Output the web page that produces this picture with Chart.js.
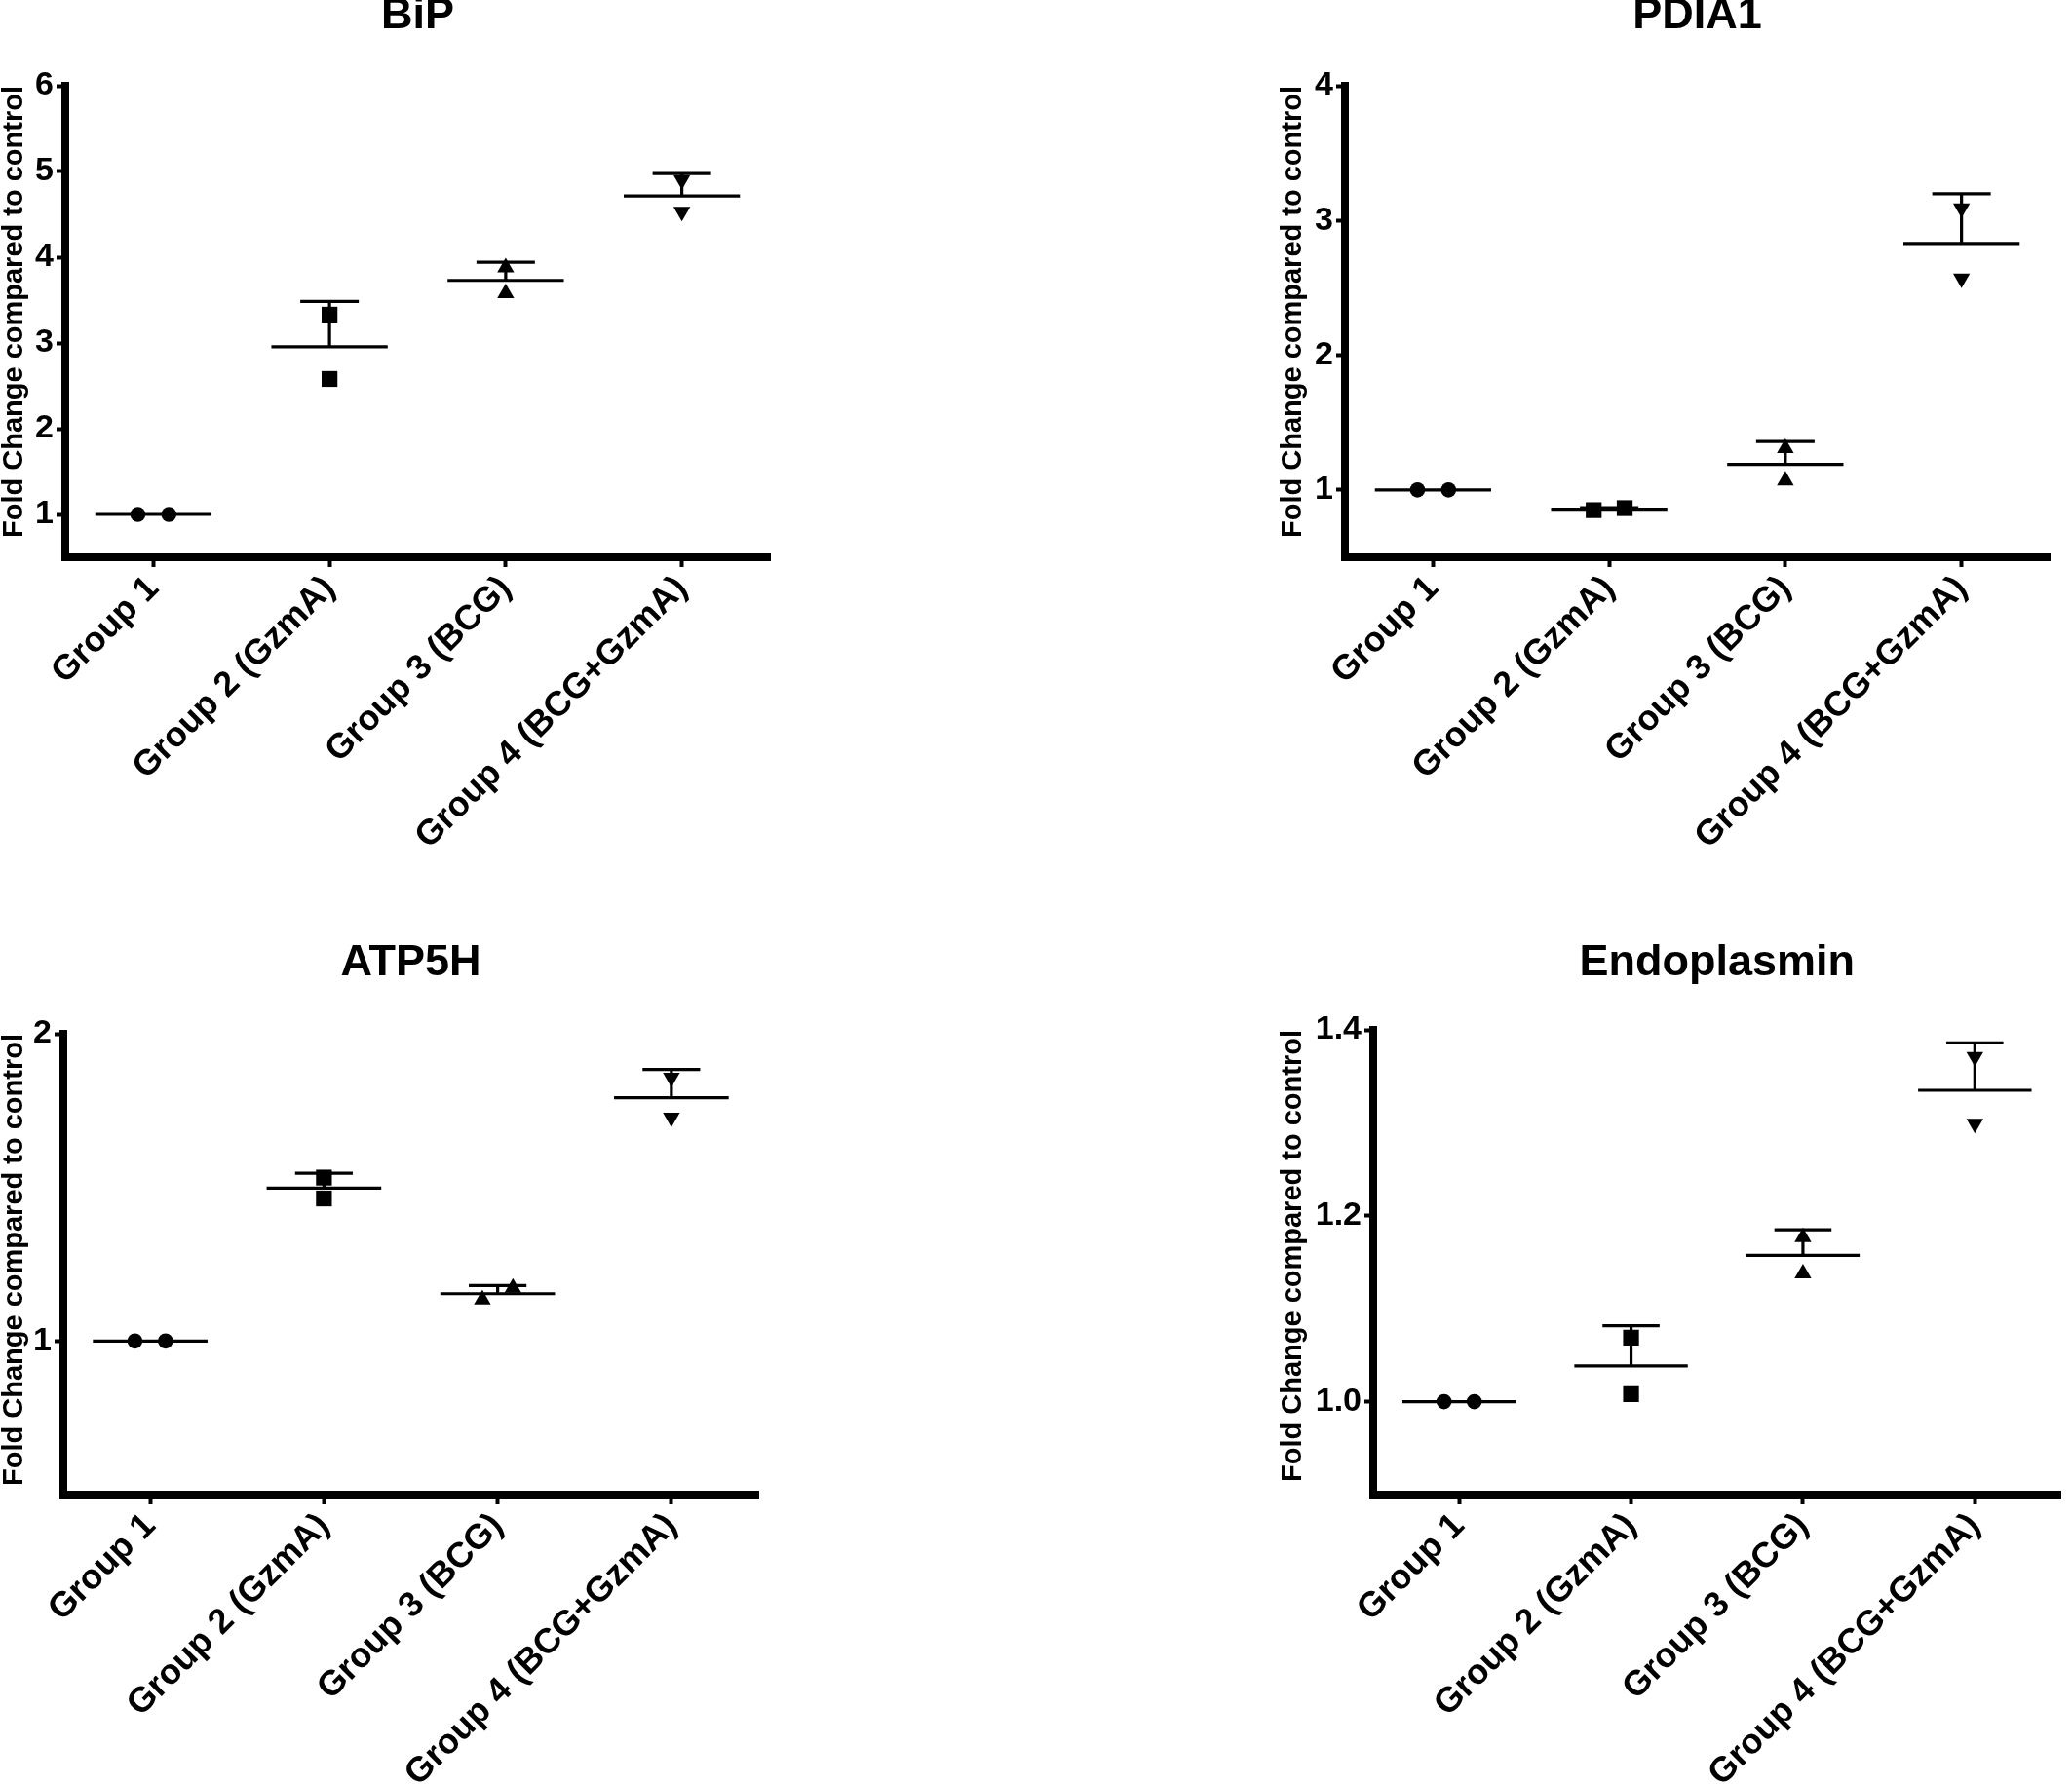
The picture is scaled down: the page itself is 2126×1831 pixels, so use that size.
<!DOCTYPE html>
<html>
<head>
<meta charset="utf-8">
<script src="https://cdn.jsdelivr.net/npm/chart.js@4.4.1/dist/chart.umd.min.js"></script>
<style>
  html, body { margin: 0; padding: 0; background: #ffffff; }
  body { width: 2126px; height: 1831px; position: relative; overflow: hidden; }
  canvas { position: absolute; }
</style>
</head>
<body>
<canvas id="bip" width="1063" height="915" style="left:0px;top:0px;width:1063px;height:915px"></canvas>
<canvas id="pdia1" width="1063" height="915" style="left:1063px;top:0px;width:1063px;height:915px"></canvas>
<canvas id="atp5h" width="1063" height="916" style="left:0px;top:915px;width:1063px;height:916px"></canvas>
<canvas id="endo" width="1063" height="916" style="left:1063px;top:915px;width:1063px;height:916px"></canvas>
<script>
// ---------------- data ----------------
const categories = ['Group 1', 'Group 2 (GzmA)', 'Group 3 (BCG)', 'Group 4 (BCG+GzmA)'];
const yAxisTitle = 'Fold Change compared to control';

// replicate values (two per group)
const bipValues   = [[1.00, 1.00], [3.33, 2.58], [3.88, 3.58], [4.90, 4.53]];
const pdia1Values = [[1.00, 1.00], [0.85, 0.865], [1.31, 1.07], [3.09, 2.57]];
const atp5hValues = [[1.00, 1.00], [1.532, 1.464], [1.135, 1.173], [1.857, 1.727]];
const endoValues  = [[1.00, 1.00], [1.069, 1.008], [1.177, 1.138], [1.371, 1.299]];

// y-axis tick labels and ranges
const bipTicks   = [1, 2, 3, 4, 5, 6];
const pdia1Ticks = [1, 2, 3, 4];
const atp5hTicks = [1, 2];
const endoTicks  = [1.0, 1.2, 1.4];
const bipRange   = [0.5, 6];
const pdia1Range = [0.5, 4];
const atp5hRange = [0.5, 2];
const endoRange  = [0.9, 1.4];

// ---------------- chart builder ----------------
const FONT = "'Liberation Sans', Arial, Helvetica, sans-serif";
const markerStyles = [
  { pointStyle: 'circle',   radius: 7.8, rotation: 0 },
  { pointStyle: 'rect',     radius: 11.5, rotation: 0 },
  { pointStyle: 'triangle', radius: 10, rotation: 0 },
  { pointStyle: 'triangle', radius: 10, rotation: 180 }
];

function buildDatasets(values, range) {
  const jitter = 0.088;
  const sets = values.map((vals, i) => {
    const close = vals.length === 2 && Math.abs(vals[0] - vals[1]) < 0.04 * (range[1] - range[0]);
    return {
      label: categories[i],
      data: vals.map((v, k) => ({ x: i + (close ? (k === 0 ? -jitter : jitter) : 0), y: v })),
      pointStyle: markerStyles[i].pointStyle,
      pointRadius: markerStyles[i].radius,
      pointHoverRadius: markerStyles[i].radius,
      pointRotation: markerStyles[i].rotation,
      backgroundColor: '#000',
      borderColor: '#000',
      borderWidth: 0,
      showLine: false
    };
  });
  // mean line with upper SD error bar
  const summary = [];
  values.forEach((vals, i) => {
    const n = vals.length;
    const m = vals.reduce((a, b) => a + b, 0) / n;
    const sd = Math.sqrt(vals.reduce((a, b) => a + (b - m) * (b - m), 0) / (n - 1));
    summary.push({ x: i - 0.33, y: m }, { x: i + 0.33, y: m }, { x: i, y: null });
    if (sd > 1e-9) {
      summary.push({ x: i, y: m }, { x: i, y: m + sd }, { x: i, y: null });
      summary.push({ x: i - 0.166, y: m + sd }, { x: i + 0.166, y: m + sd }, { x: i, y: null });
    }
  });
  sets.push({
    label: 'Mean ± SD',
    data: summary,
    showLine: true,
    spanGaps: false,
    pointRadius: 0,
    pointHoverRadius: 0,
    borderColor: '#000',
    backgroundColor: '#000',
    borderWidth: 3.2,
    fill: false
  });
  return sets;
}

function makeChart(id, title, values, yTicks, range, decimals, L) {
  new Chart(document.getElementById(id), {
    type: 'scatter',
    data: { datasets: buildDatasets(values, range) },
    options: {
      responsive: false,
      animation: false,
      devicePixelRatio: 1,
      layout: { padding: { left: L.pl, right: L.pr, top: 0, bottom: 0 } },
      plugins: {
        legend: { display: false },
        tooltip: { enabled: false },
        title: {
          display: true,
          text: title,
          color: '#000',
          fullSize: false,
          font: { family: FONT, size: 45, weight: 'bold', lineHeight: 0.75 },
          padding: { top: L.tt, bottom: L.tb }
        }
      },
      scales: {
        x: {
          type: 'linear',
          min: -0.5,
          max: 3.5,
          afterBuildTicks: s => { s.ticks = categories.map((c, i) => ({ value: i })); },
          afterFit: s => { s.height = L.xh; },
          ticks: {
            autoSkip: false,
            minRotation: 45,
            maxRotation: 45,
            color: '#000',
            padding: 1,
            font: { family: FONT, size: 36, weight: 'bold' },
            callback: v => categories[v]
          },
          grid: { display: true, drawOnChartArea: false, drawTicks: true, tickLength: 10, tickWidth: 4, tickColor: '#000' },
          border: { display: true, width: 8, color: '#000' }
        },
        y: {
          type: 'linear',
          min: range[0],
          max: range[1],
          afterBuildTicks: s => { s.ticks = yTicks.map(v => ({ value: v })); },
          afterFit: s => { s.width = L.yw; },
          ticks: {
            color: '#000',
            padding: 3,
            font: { family: FONT, size: 34, weight: 'bold' },
            callback: v => decimals ? Number(v).toFixed(decimals) : String(v)
          },
          grid: { display: true, drawOnChartArea: false, drawTicks: true, tickLength: 9, tickWidth: 4, tickColor: '#000' },
          border: { display: true, width: 8, color: '#000' },
          title: {
            display: true,
            text: yAxisTitle,
            align: 'end',
            color: '#000',
            font: { family: FONT, size: 29, weight: 'bold', lineHeight: 1 },
            padding: { top: 0, bottom: 0 }
          }
        }
      }
    }
  });
}

makeChart('bip',   'BiP',         bipValues,   bipTicks,   bipRange,   0, { pl: 0,   yw: 67, pr: 273, xh: 343, tt: 0,    tb: 54.25 });
makeChart('pdia1', 'PDIA1',       pdia1Values, pdia1Ticks, pdia1Range, 0, { pl: 249, yw: 68, pr: 23,  xh: 343, tt: 0,    tb: 54.25 });
makeChart('atp5h', 'ATP5H',       atp5hValues, atp5hTicks, atp5hRange, 0, { pl: 0,   yw: 65, pr: 285, xh: 297, tt: 57.1, tb: 55.15 });
makeChart('endo',  'Endoplasmin', endoValues,  endoTicks,  endoRange,  1, { pl: 249, yw: 97, pr: 3,   xh: 297, tt: 57.1, tb: 51.15 });
</script>
</body>
</html>
